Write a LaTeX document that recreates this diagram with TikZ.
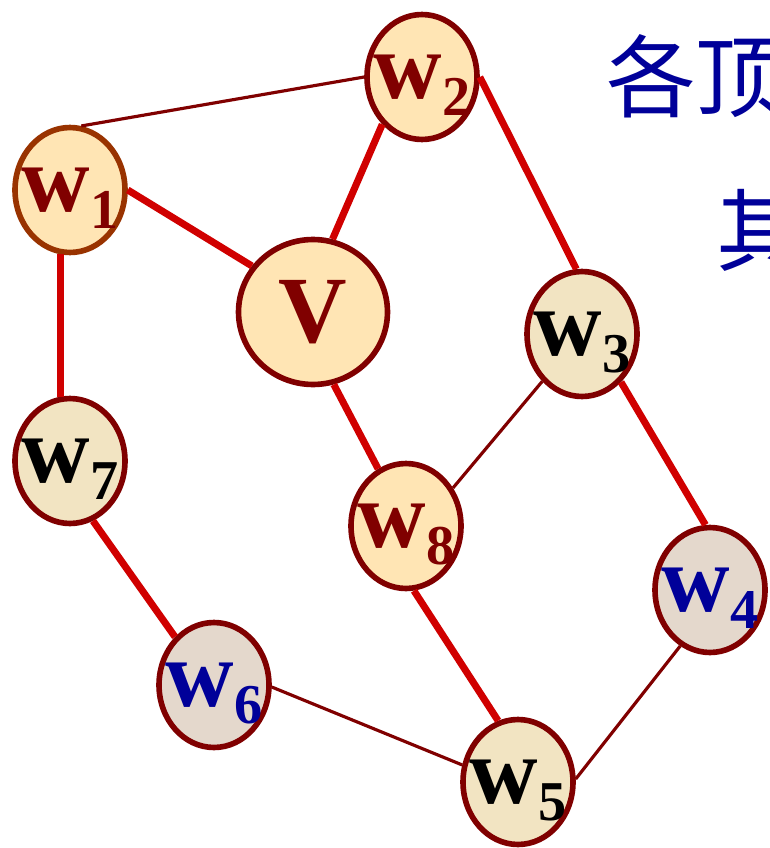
\documentclass[tikz,border=0pt]{standalone}
\usepackage{fontspec}
\setmainfont{Liberation Serif}
\newfontfamily\cjk{Noto Sans CJK SC}
\usepackage{tikz}
\usetikzlibrary{shapes}

\definecolor{peach}{RGB}{255,229,180}
\definecolor{wheatish}{RGB}{242,228,194}
\definecolor{greyrose}{RGB}{228,216,204}
\definecolor{maroon}{RGB}{128,0,0}
\definecolor{rust}{RGB}{153,51,0}
\definecolor{treered}{RGB}{208,0,0}
\definecolor{navy}{RGB}{0,0,153}

% vertex label with lowered index (zero width, so the ellipse keeps its size)
\newcommand{\wsub}[1]{\makebox[0pt][c]{w\raisebox{-10pt}[0pt][0pt]{\fontsize{32}{32}\selectfont #1}}}

\begin{document}
\begin{tikzpicture}[x=0.02cm, y=-0.02cm,
  vert/.style={ellipse, draw=maroon, line width=3.2pt, minimum width=2.2cm, minimum height=2.5cm,
    inner sep=0pt, font=\fontsize{54}{54}\selectfont\bfseries},
  warm/.style={fill=peach, text=maroon},
  pale/.style={fill=wheatish, text=black},
  cool/.style={fill=greyrose, text=navy},
  treeedge/.style={draw=treered, line width=4pt},
  graphedge/.style={draw=maroon, line width=1.8pt},
  caption/.style={anchor=west, inner sep=0pt, text=navy, font=\cjk\fontsize{51}{51}\selectfont}]

  \useasboundingbox (0,0) rectangle (769,848);
  \clip (0,0) rectangle (769,848);

  \node[vert, warm, draw=rust] (w1) at (70,190) {\wsub{1}};
  \node[vert, warm] (w2) at (422,77) {\wsub{2}};
  \node[vert, warm, minimum width=2.98cm, minimum height=2.9cm] (v) at (313,312) {\makebox[0pt][c]{V}};
  \node[vert, pale] (w3) at (582,334) {\wsub{3}};
  \node[vert, pale] (w7) at (70,461) {\wsub{7}};
  \node[vert, warm] (w8) at (406,526) {\wsub{8}};
  \node[vert, cool] (w4) at (710,590) {\wsub{4}};
  \node[vert, cool] (w6) at (214,685) {\wsub{6}};
  \node[vert, pale] (w5) at (518,782) {\wsub{5}};

  \node[caption] (line1) at (606,76) {各顶};
  \node[caption] (line2) at (716,230) {其};

  \path[treeedge]
    (w2.230) edge (v.75)
    (w2.east) edge (w3.95)
    (w1.east) edge (v.143)
    (w1.262) edge (w7.98)
    (v.286) edge (w8.116)
    (w3.309) edge (w4.94)
    (w7.291) edge (w6.129)
    (w8.277) edge (w5.108);
  \path[graphedge]
    (w1.80) edge (w2.west)
    (w3.230) edge (w8.39)
    (w6.358) edge (w5.163)
    (w5.3) edge (w4.242);

\end{tikzpicture}
\end{document}
